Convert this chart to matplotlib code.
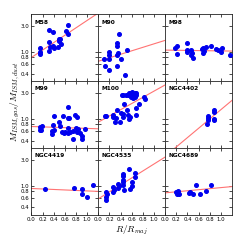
import numpy as np
import matplotlib
matplotlib.use("Agg")
import matplotlib.pyplot as plt
from matplotlib.ticker import FixedLocator, FixedFormatter, NullLocator

plt.rcParams['mathtext.fontset'] = 'cm'

names = ["M58", "M90", "M98", "M99", "M100", "NGC4402", "NGC4419", "NGC4535", "NGC4689"]

m58_r = [0.15, 0.15, 0.15, 0.31, 0.39, 0.32, 0.31, 0.33, 0.39, 0.40, 0.47, 0.50, 0.50, 0.52, 0.53, 0.62, 0.65, 0.66]
m58_y = [1.2, 0.98, 0.92, 2.5, 2.35, 1.55, 1.05, 1.25, 1.3, 1.17, 1.22, 1.75, 1.62, 1.7, 1.4, 2.45, 3.15, 2.15]

m90_r = [0.10, 0.12, 0.20, 0.20, 0.20, 0.20, 0.34, 0.34, 0.35, 0.34, 0.34, 0.375, 0.40, 0.47, 0.51]
m90_y = [0.75, 0.565, 1.0, 0.89, 0.75, 0.465, 1.45, 1.3, 0.96, 0.88, 0.565, 2.14, 0.73, 0.38, 1.07]

m98_r = [0.17, 0.22, 0.22, 0.39, 0.39, 0.39, 0.46, 0.48, 0.46, 0.50, 0.655, 0.68, 0.67, 0.69, 0.74, 0.82, 0.92, 0.94, 1.02, 1.01, 1.16]
m98_y = [1.16, 1.3, 0.93, 1.49, 1.1, 1.01, 1.07, 0.96, 0.88, 0.77, 1.13, 1.16, 0.96, 1.04, 1.23, 1.3, 1.13, 1.1, 1.16, 0.98, 0.88]

m99_r = [0.157, 0.157, 0.19, 0.18, 0.41, 0.39, 0.36, 0.41, 0.37, 0.50, 0.51, 0.54, 0.575, 0.585, 0.61, 0.65, 0.66,
         0.68, 0.65, 0.69, 0.66, 0.74, 0.75, 0.79, 0.81, 0.80, 0.825, 0.835, 0.87, 0.90, 0.91, 0.96]
m99_y = [0.71, 0.62, 0.73, 0.62, 1.11, 0.78, 0.59, 0.62, 0.52, 0.89, 0.73, 0.57, 1.11, 0.54, 0.57, 1.02, 1.64,
         1.02, 0.67, 0.57, 0.54, 0.59, 0.42, 1.17, 1.08, 0.67, 0.57, 0.64, 0.56, 0.48, 0.43, 0.66]

m100_r = [0.125, 0.14, 0.27, 0.27, 0.30, 0.32, 0.34, 0.40, 0.39, 0.44, 0.45, 0.46, 0.52, 0.53, 0.55, 0.57,
          0.42, 0.45, 0.49, 0.525, 0.55, 0.58, 0.60, 0.61, 0.625, 0.65, 0.67, 0.66, 0.625, 0.59, 0.685,
          0.73, 0.685, 0.685, 0.82, 0.84]
m100_y = [1.14, 1.14, 1.2, 1.08, 0.89, 1.02, 1.47, 1.28, 0.86, 1.24, 1.08, 1.88, 1.43, 1.18, 1.0, 1.08,
          2.77, 2.77, 2.77, 2.7, 2.94, 2.94, 3.1, 2.86, 2.63, 2.94, 2.77, 2.49, 2.42, 2.55, 3.0,
          1.88, 1.6, 1.2, 2.55, 2.35]

ngc4402_r = [0.76, 0.76, 0.76, 0.75, 0.87, 0.88, 0.87, 0.88]
ngc4402_y = [1.13, 1.02, 0.96, 0.82, 1.45, 1.33, 1.01, 0.95]

ngc4419_r = [0.25, 0.77, 0.91, 0.91, 0.995, 1.10]
ngc4419_y = [0.87, 0.9, 0.89, 0.72, 0.62, 1.02]

ngc4535_r = [0.14, 0.15, 0.14, 0.14, 0.27, 0.28, 0.27, 0.36, 0.375, 0.35, 0.435, 0.45, 0.435, 0.45, 0.45, 0.46,
             0.55, 0.57, 0.60, 0.61, 0.65, 0.66]
ngc4535_y = [0.76, 0.7, 0.61, 0.54, 0.95, 0.85, 0.76, 1.06, 0.975, 0.9, 1.65, 1.52, 1.25, 1.19, 1.03, 0.85,
             2.01, 0.875, 1.19, 1.0, 1.7, 1.44]

ngc4689_r = [0.20, 0.21, 0.23, 0.24, 0.43, 0.45, 0.49, 0.56, 0.63, 0.73, 0.83]
ngc4689_y = [0.77, 0.71, 0.8, 0.72, 0.74, 0.76, 0.71, 1.02, 0.71, 0.8, 1.05]

# fit lines: log10(ratio) = intercept + slope * R
fit_slope = [0.68, 0.32, -0.015, -0.035, 0.57, 0.855, -0.045, 0.64, 0.096]
fit_intercept = [-0.10, -0.17, 0.035, -0.14, -0.06, -0.685, -0.05, -0.24, -0.13]

radii = [m58_r, m90_r, m98_r, m99_r, m100_r, ngc4402_r, ngc4419_r, ngc4535_r, ngc4689_r]
ratios = [m58_y, m90_y, m98_y, m99_y, m100_y, ngc4402_y, ngc4419_y, ngc4535_y, ngc4689_y]

ytick_vals = [0.4, 0.6, 0.8, 1.0, 3.0]
ytick_labels = ["0.4", "0.6", "0.8", "1.0", "3.0"]
xtick_vals = [0.0, 0.2, 0.4, 0.6, 0.8, 1.0]

fig, axes = plt.subplots(3, 3, figsize=(2.4, 2.4), dpi=100, sharex=True, sharey=True)
fig.subplots_adjust(left=0.131, right=0.967, top=0.940, bottom=0.104, wspace=0, hspace=0)

xline = np.linspace(0.0, 1.2, 50)
for i, ax in enumerate(axes.flat):
    ax.plot(xline, 10 ** (fit_intercept[i] + fit_slope[i] * xline), color=(1, 0.45, 0.45), lw=0.8, zorder=2)
    ax.plot(radii[i], ratios[i], 'o', color='#0000ee', mec='#0000ee', ms=2.6, zorder=3)
    ax.set_yscale('log')
    ax.set_xlim(0, 1.2)
    ax.set_ylim(0.29, 4.9)
    ax.text(0.05, 0.885, names[i], transform=ax.transAxes, fontsize=4.2, fontweight='bold',
            ha='left', va='center')
    ax.tick_params(which='both', direction='in', top=True, right=True, length=2, width=0.5,
                   labelsize=3.9, pad=1.5)
    for sp in ax.spines.values():
        sp.set_linewidth(0.6)
        sp.set_color('#222222')
    ax.yaxis.set_major_locator(FixedLocator(ytick_vals))
    ax.yaxis.set_major_formatter(FixedFormatter(ytick_labels))
    ax.yaxis.set_minor_locator(NullLocator())
    ax.xaxis.set_major_locator(FixedLocator(xtick_vals))

for col in range(3):
    ax = axes[2, col]
    labs = ["" if (t == 0.0 and col < 2) else "%.1f" % t for t in xtick_vals]
    ax.xaxis.set_major_formatter(FixedFormatter(labs))

fig.text(0.063, 0.575, r"$M_{ISM,gas}/M_{ISM,dust}$", rotation=90, ha='center', va='center', fontsize=6.8)
fig.text(0.549, 0.042, r"$R/R_{maj}$", ha='center', va='center', fontsize=6.8)

fig.savefig("out.png", dpi=100)
